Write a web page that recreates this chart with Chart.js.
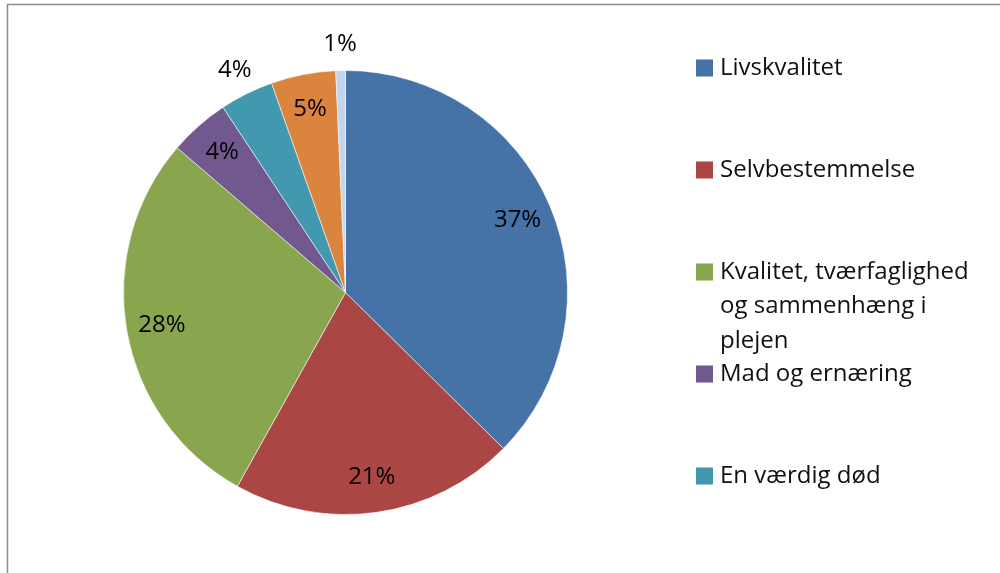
<!DOCTYPE html>
<html>
<head>
<meta charset="utf-8">
<script src="https://cdn.jsdelivr.net/npm/chart.js@4.4.0/dist/chart.umd.min.js"></script>
<style>
    html, body { margin: 0; padding: 0; background: #ffffff; }
    #wrap { width: 1000px; height: 573px; position: relative; overflow: hidden; }
</style>
</head>
<body>
<div id="wrap"><canvas id="pie-chart" width="1000" height="573"></canvas></div>
<script>
// 범주 (마지막 두 개는 범례가 잘려 이름이 보이지 않음)
const categories = [
    'Livskvalitet',
    'Selvbestemmelse',
    'Kvalitet, tværfaglighed og sammenhæng i plejen',
    'Mad og ernæring',
    'En værdig død',
    '',
    ''
];
// 조각 크기 (%), 그림에서 읽은 각도 기준
const shares = [37.4, 20.7, 28.2, 4.4, 3.9, 4.7, 0.7];
const sliceColors = ['#4572A7', '#AA4643', '#89A54E', '#71588F', '#4198AF', '#DB843D', '#C3D5ED'];

const FONT = '"Open Sans", "Noto Sans", sans-serif';

// 배경 + 테두리
const framePlugin = {
    id: 'frame',
    beforeDraw(chart) {
        const ctx = chart.ctx;
        ctx.save();
        ctx.fillStyle = '#ffffff';
        ctx.fillRect(0, 0, chart.width, chart.height);
        ctx.strokeStyle = '#8c8c8c';
        ctx.lineWidth = 1.5;
        ctx.beginPath();
        ctx.moveTo(7.5, chart.height);
        ctx.lineTo(7.5, 4.5);
        ctx.lineTo(chart.width, 4.5);
        ctx.stroke();
        ctx.restore();
    }
};

// 조각 퍼센트 라벨 (작은 조각은 바깥쪽)
const sliceLabelPlugin = {
    id: 'sliceLabels',
    afterDatasetsDraw(chart) {
        const ctx = chart.ctx;
        const meta = chart.getDatasetMeta(0);
        const data = chart.data.datasets[0].data;
        const total = data.reduce((a, b) => a + b, 0);
        ctx.save();
        ctx.font = '24px ' + FONT;
        ctx.fillStyle = '#000000';
        ctx.textAlign = 'center';
        ctx.textBaseline = 'middle';
        meta.data.forEach((arc, i) => {
            const p = arc.getProps(['x', 'y', 'startAngle', 'endAngle', 'outerRadius'], true);
            const pct = data[i] / total * 100;
            const mid = (p.startAngle + p.endAngle) / 2;
            const f = pct >= 4.2 ? 0.84 : 1.12;
            const x = p.x + Math.cos(mid) * p.outerRadius * f;
            const y = p.y + Math.sin(mid) * p.outerRadius * f;
            ctx.fillText(Math.round(pct) + '%', x, y);
        });
        ctx.restore();
    }
};

// 오른쪽 범례 (줄바꿈 포함)
const legendPlugin = {
    id: 'sideLegend',
    afterDraw(chart) {
        const ctx = chart.ctx;
        const boxX = 696, textX = 720, maxW = 268;
        const firstY = 68, step = 102, lineH = 34.5, box = 17;
        ctx.save();
        ctx.font = '24px ' + FONT;
        ctx.textBaseline = 'middle';
        ctx.textAlign = 'left';
        categories.forEach((label, i) => {
            if (!label) return;
            const y = firstY + i * step;
            ctx.fillStyle = sliceColors[i];
            ctx.fillRect(boxX, y - box / 2, box, box);
            // 단어 단위 줄바꿈
            const words = label.split(' ');
            const lines = [];
            let cur = '';
            words.forEach(w => {
                const test = cur ? cur + ' ' + w : w;
                if (ctx.measureText(test).width > maxW && cur) {
                    lines.push(cur);
                    cur = w;
                } else {
                    cur = test;
                }
            });
            if (cur) lines.push(cur);
            ctx.fillStyle = '#111111';
            lines.forEach((ln, k) => ctx.fillText(ln, textX, y + k * lineH));
        });
        ctx.restore();
    }
};

new Chart(document.getElementById('pie-chart'), {
    type: 'pie',
    data: {
        labels: categories,
        datasets: [{
            data: shares,
            backgroundColor: sliceColors,
            borderColor: 'rgba(255, 255, 255, 0.55)',
            borderWidth: 1
        }]
    },
    options: {
        responsive: false,
        animation: false,
        devicePixelRatio: 1,
        radius: 222,
        layout: {
            padding: { left: 115, right: 424, top: 60, bottom: 48 }
        },
        plugins: {
            legend: { display: false },
            tooltip: { enabled: false }
        }
    },
    plugins: [framePlugin, sliceLabelPlugin, legendPlugin]
});
</script>
</body>
</html>
